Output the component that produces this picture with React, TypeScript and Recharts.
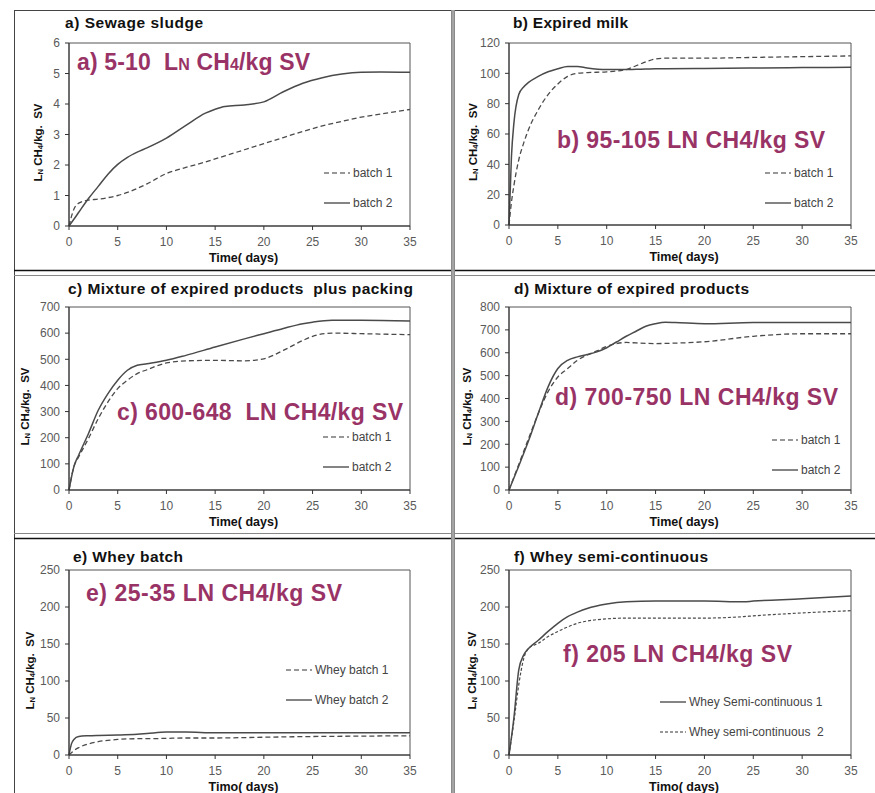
import React from "react";
import { LineChart, Line, XAxis, YAxis, Legend, ReferenceArea } from "recharts";

const FONT = "'Liberation Sans', Arial, Helvetica, sans-serif";
const INK = "#4a4a4a";
const TICK = "#5a5a5a";
const PLUM = "#993366";
const DAYS = [0, 5, 10, 15, 20, 25, 30, 35];

// a) Sewage sludge
const sludgeDays = [0, 0.5, 1, 2, 3, 4, 5, 6, 7, 8, 10, 12, 14, 15, 16, 18, 20, 22, 24, 26, 28, 30, 32, 35];
const sludgeBatch1 = [0, 0.55, 0.75, 0.85, 0.88, 0.93, 1.0, 1.1, 1.23, 1.38, 1.72, 1.92, 2.1, 2.2, 2.3, 2.5, 2.7, 2.9, 3.1, 3.28, 3.43, 3.57, 3.67, 3.82];
const sludgeBatch2 = [0, 0.22, 0.45, 0.9, 1.3, 1.7, 2.02, 2.25, 2.42, 2.56, 2.88, 3.3, 3.7, 3.83, 3.92, 3.97, 4.07, 4.4, 4.68, 4.86, 4.98, 5.04, 5.05, 5.04];
const sludgeTicks = [0, 1, 2, 3, 4, 5, 6];

// b) Expired milk
const milkDays = [0, 0.25, 0.5, 1, 1.5, 2, 3, 4, 5, 6, 7, 8, 10, 12, 13, 14, 15, 16, 20, 25, 30, 35];
const milkBatch1 = [0, 15, 26, 43, 54, 63, 76, 86, 93, 98, 100, 100.5, 101, 102.5, 105, 107.5, 109.5, 110, 110, 110.5, 111, 111.5];
const milkBatch2 = [0, 45, 67, 86, 91, 94, 98, 101, 103, 104.5, 104.5, 103.5, 102.5, 102.5, 102.7, 102.8, 103, 103, 103.2, 103.5, 103.8, 104];
const milkTicks = [0, 20, 40, 60, 80, 100, 120];

// c) Mixture of expired products plus packing
const packDays = [0, 0.5, 1, 2, 3, 4, 5, 6, 7, 8, 10, 12, 15, 18, 20, 22, 24, 25, 27, 30, 35];
const packBatch1 = [0, 89, 127, 197, 273, 337, 388, 420, 445, 460, 486, 494, 496, 494, 502, 534, 572, 588, 600, 598, 594];
const packBatch2 = [0, 89, 134, 216, 305, 369, 420, 458, 477, 483, 496, 515, 547, 578, 598, 618, 636, 642, 649, 649, 646];
const packTicks = [0, 100, 200, 300, 400, 500, 600, 700];

// d) Mixture of expired products
const mixDays = [0, 1, 2, 3, 4, 5, 6, 7, 8, 9, 10, 11, 12, 13, 14, 15, 16, 17, 20, 25, 30, 35];
const mixBatch1 = [0, 112, 225, 335, 430, 494, 531, 567, 590, 608, 628, 640, 645, 643, 641, 640, 641, 642, 648, 672, 683, 683];
const mixBatch2 = [0, 105, 215, 335, 451, 531, 567, 582, 592, 604, 622, 647, 672, 694, 716, 727, 733, 732, 727, 732, 732, 732];
const mixTicks = [0, 100, 200, 300, 400, 500, 600, 700, 800];

// e) Whey batch
const wheyDays = [0, 0.25, 0.5, 1, 2, 3, 5, 7, 8, 10, 12, 15, 20, 25, 30, 35];
const wheyBatch1 = [0, 3, 6, 10, 15, 18, 21, 22, 22, 22.5, 23, 23, 24, 25, 25.5, 26];
const wheyBatch2 = [0, 15, 21, 25, 26, 26.5, 27, 28, 29, 31, 31, 30, 30, 30, 30, 30];
const wheyTicks = [0, 50, 100, 150, 200, 250];

// f) Whey semi-continuous
const semiDays = [0, 0.5, 1, 1.5, 2, 3, 4, 5, 6, 7, 8, 10, 12, 15, 20, 24, 25, 30, 35];
const semi1 = [0, 50, 115, 135, 144, 155, 167, 178, 187, 193, 198, 204, 207, 208, 208, 207, 208, 211, 215];
const semi2 = [0, 45, 95, 130, 144, 151, 160, 167, 173, 178, 181, 184, 185, 185, 185, 187, 188, 192, 195];

type Series = { name: string; values: number[]; dash?: string; width: number };

type PanelDef = {
  left: number;
  top: number;
  width: number;
  height: number;
  days: number[];
  series: Series[];
  yTicks: number[];
  yLabelGap: number;
  xLabel: string;
  legendX: number;
  legendY: number;
};

const AXIS_W = 55;
const AXIS_H = 45;
const TOP_M = 20;
const RIGHT_M = 20;

const DASH = "5 3";
const SOLID_W = 1.5;

const panels: PanelDef[] = [
  {
    left: 69, top: 43, width: 341, height: 183, days: sludgeDays,
    series: [
      { name: "batch 1", values: sludgeBatch1, dash: DASH, width: 1.3 },
      { name: "batch 2", values: sludgeBatch2, width: SOLID_W },
    ],
    yTicks: sludgeTicks, yLabelGap: 31, xLabel: "Time( days)", legendX: 324, legendY: 173,
  },
  {
    left: 509, top: 43, width: 342, height: 182, days: milkDays,
    series: [
      { name: "batch 1", values: milkBatch1, dash: DASH, width: 1.3 },
      { name: "batch 2", values: milkBatch2, width: SOLID_W },
    ],
    yTicks: milkTicks, yLabelGap: 36, xLabel: "Time( days)", legendX: 765, legendY: 173,
  },
  {
    left: 69, top: 307, width: 341, height: 183, days: packDays,
    series: [
      { name: "batch 1", values: packBatch1, dash: DASH, width: 1.3 },
      { name: "batch 2", values: packBatch2, width: SOLID_W },
    ],
    yTicks: packTicks, yLabelGap: 44, xLabel: "Time( days)", legendX: 323, legendY: 437,
  },
  {
    left: 509, top: 307, width: 342, height: 183, days: mixDays,
    series: [
      { name: "batch 1", values: mixBatch1, dash: DASH, width: 1.3 },
      { name: "batch 2", values: mixBatch2, width: SOLID_W },
    ],
    yTicks: mixTicks, yLabelGap: 42, xLabel: "Time( days)", legendX: 772, legendY: 440,
  },
  {
    left: 69, top: 570, width: 341, height: 185, days: wheyDays,
    series: [
      { name: "Whey batch 1", values: wheyBatch1, dash: DASH, width: 1.3 },
      { name: "Whey batch 2", values: wheyBatch2, width: SOLID_W },
    ],
    yTicks: wheyTicks, yLabelGap: 39, xLabel: "Timo( days)", legendX: 286, legendY: 670,
  },
  {
    left: 509, top: 570, width: 342, height: 185, days: semiDays,
    series: [
      { name: "Whey Semi-continuous 1", values: semi1, width: SOLID_W },
      { name: "Whey semi-continuous  2", values: semi2, dash: "3 2", width: 1.2 },
    ],
    yTicks: wheyTicks, yLabelGap: 37, xLabel: "Timo( days)", legendX: 660, legendY: 702,
  },
];

const titles = [
  { x: 65, y: 28, w: 138, text: "a) Sewage sludge" },
  { x: 513, y: 28, w: 115, text: "b) Expired milk" },
  { x: 68, y: 294, w: 345, text: "c) Mixture of expired products  plus packing" },
  { x: 514, y: 294, w: 235, text: "d) Mixture of expired products" },
  { x: 73, y: 562, w: 110, text: "e) Whey batch" },
  { x: 514, y: 562, w: 194, text: "f) Whey semi-continuous" },
];

const notes = [
  { x: 557, y: 148, w: 268, text: "b) 95-105 LN CH4/kg SV" },
  { x: 117, y: 420, w: 286, text: "c) 600-648  LN CH4/kg SV" },
  { x: 555, y: 405, w: 283, text: "d) 700-750 LN CH4/kg SV" },
  { x: 86, y: 601, w: 256, text: "e) 25-35 LN CH4/kg SV" },
  { x: 563, y: 662, w: 229, text: "f) 205 LN CH4/kg SV" },
];

const yLabel = (gap: number) => (props: any) => {
  const vb = props.viewBox || {};
  const cx = vb.x + vb.width - gap;
  const cy = vb.y + vb.height / 2 + 8;
  return (
    <text
      x={cx}
      y={cy}
      transform={`rotate(-90 ${cx} ${cy})`}
      textAnchor="middle"
      dominantBaseline="central"
      fontFamily={FONT}
      fontWeight="bold"
      fontSize={11.5}
      fill="#111"
      style={{ whiteSpace: "pre" }}
    >
      L<tspan fontSize={7.5} dy={1.5}>N</tspan>
      <tspan dy={-1.5}> CH</tspan>
      <tspan fontSize={7.5} dy={2}>4</tspan>
      <tspan dy={-2}>/kg.  SV</tspan>
    </text>
  );
};

const xLabel = (text: string) => (props: any) => {
  const vb = props.viewBox || {};
  return (
    <text x={vb.x + vb.width / 2 + 4} y={vb.y + 36} textAnchor="middle" fontFamily={FONT} fontWeight="bold" fontSize={12.5} fill="#111">
      {text}
    </text>
  );
};

function LegendBox({ series }: { series: Series[] }) {
  return (
    <div style={{ fontFamily: FONT, fontSize: 12, color: "#444", lineHeight: "16px" }}>
      {series.map((s, i) => (
        <div key={s.name} style={{ display: "flex", alignItems: "center", height: 16, marginTop: i ? 14 : 0 }}>
          <svg width={26} height={4} style={{ display: "block" }}>
            <line x1={0} y1={2} x2={26} y2={2} stroke="#333" strokeWidth={1.2} strokeDasharray={s.dash} />
          </svg>
          <span style={{ marginLeft: 3, whiteSpace: "pre" }}>{s.name}</span>
        </div>
      ))}
    </div>
  );
}

function Panel({ p }: { p: PanelDef }) {
  const rows = p.days.map((t, i) => {
    const row: Record<string, number> = { t };
    p.series.forEach((s, k) => {
      row[`s${k}`] = s.values[i];
    });
    return row;
  });
  const yMax = p.yTicks[p.yTicks.length - 1];
  const chartLeft = p.left - AXIS_W;
  const chartTop = p.top - TOP_M;
  const tickStyle = { fontSize: 12, fill: TICK, fontFamily: FONT };

  return (
    <div style={{ position: "absolute", left: chartLeft, top: chartTop }}>
      <LineChart
        width={p.width + AXIS_W + RIGHT_M}
        height={p.height + TOP_M + AXIS_H}
        data={rows}
        margin={{ top: TOP_M, right: RIGHT_M, bottom: 0, left: 0 }}
      >
        <ReferenceArea x1={0} x2={35} y1={0} y2={yMax} fill="none" stroke="#555" strokeWidth={1} />
        <XAxis
          dataKey="t"
          type="number"
          domain={[0, 35]}
          ticks={DAYS}
          interval={0}
          height={AXIS_H}
          tickSize={4}
          tickMargin={7}
          axisLine={{ stroke: "#333" }}
          tickLine={{ stroke: "#333" }}
          tick={tickStyle}
          label={xLabel(p.xLabel)}
        />
        <YAxis
          type="number"
          domain={[0, yMax]}
          ticks={p.yTicks}
          interval={0}
          width={AXIS_W}
          tickSize={4}
          tickMargin={5}
          axisLine={{ stroke: "#333" }}
          tickLine={{ stroke: "#333" }}
          tick={tickStyle}
          label={yLabel(p.yLabelGap)}
        />
        {p.series.map((s, k) => (
          <Line
            key={s.name}
            dataKey={`s${k}`}
            name={s.name}
            type="monotone"
            stroke={INK}
            strokeWidth={s.width}
            strokeDasharray={s.dash}
            dot={false}
            activeDot={false}
            isAnimationActive={false}
          />
        ))}
        <Legend
          layout="vertical"
          align="center"
          verticalAlign="middle"
          wrapperStyle={{ left: p.legendX - chartLeft, top: p.legendY - 8 - chartTop, width: "auto", height: "auto" }}
          content={() => <LegendBox series={p.series} />}
        />
      </LineChart>
    </div>
  );
}

export default function App() {
  return (
    <div style={{ position: "absolute", left: 0, top: 0, width: 875, height: 793, background: "#fff", overflow: "hidden" }}>
      {panels.map((p, i) => (
        <Panel key={i} p={p} />
      ))}
      <svg width={875} height={793} style={{ position: "absolute", left: 0, top: 0, pointerEvents: "none" }}>
        {/* frames */}
        <line x1={14} y1={10.5} x2={875} y2={10.5} stroke="#444" />
        <line x1={14.5} y1={10} x2={14.5} y2={793} stroke="#444" />
        <line x1={14} y1={270.5} x2={875} y2={270.5} stroke="#111" strokeWidth={1.5} />
        <line x1={14} y1={275.5} x2={875} y2={275.5} stroke="#888" />
        <line x1={14} y1={533.5} x2={875} y2={533.5} stroke="#888" />
        <line x1={14} y1={538.5} x2={875} y2={538.5} stroke="#111" strokeWidth={1.5} />
        <rect x={451} y={10} width={4} height={783} fill="#8a8a8a" />
        <line x1={453} y1={10} x2={453} y2={793} stroke="#bdbdbd" />

        {titles.map((t) => (
          <text key={t.text} x={t.x} y={t.y} fontFamily={FONT} fontWeight="bold" fontSize={15.5} fill="#111" textLength={t.w} lengthAdjust="spacing" style={{ whiteSpace: "pre" }}>
            {t.text}
          </text>
        ))}

        <text x={77} y={70} fontFamily={FONT} fontWeight="bold" fontSize={23} fill={PLUM} textLength={233} lengthAdjust="spacing" style={{ whiteSpace: "pre" }}>
          a) 5-10  L<tspan fontSize={16}>N</tspan> CH<tspan fontSize={16}>4</tspan>/kg SV
        </text>
        {notes.map((n) => (
          <text key={n.text} x={n.x} y={n.y} fontFamily={FONT} fontWeight="bold" fontSize={23} fill={PLUM} textLength={n.w} lengthAdjust="spacing" style={{ whiteSpace: "pre" }}>
            {n.text}
          </text>
        ))}
      </svg>
    </div>
  );
}
